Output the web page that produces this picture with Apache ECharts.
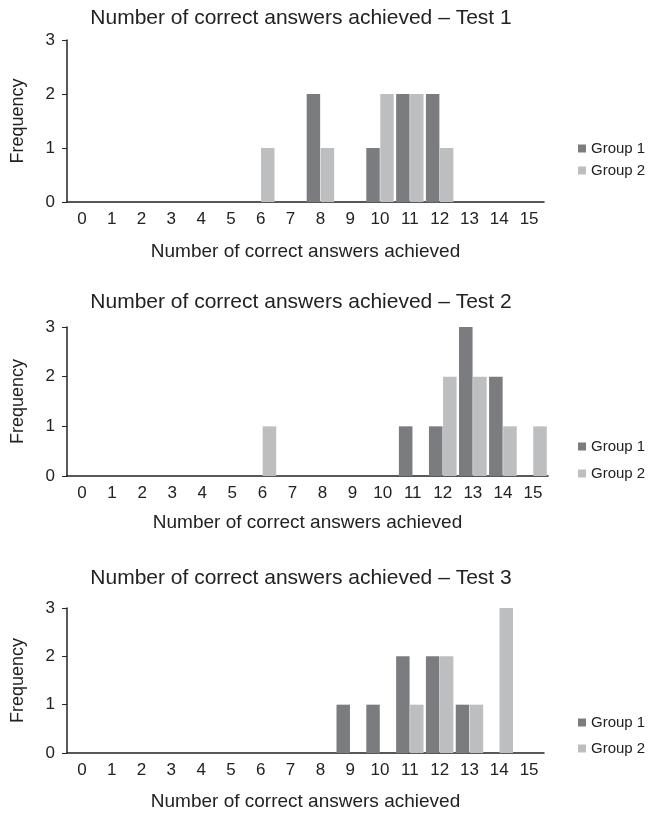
<!DOCTYPE html>
<html>
<head>
<meta charset="utf-8">
<script src="https://cdn.jsdelivr.net/npm/echarts@6/dist/echarts.min.js"></script>
<style>html,body{margin:0;padding:0;background:#fff}#c{width:660px;height:814px}</style>
</head>
<body>
<div id="c"></div>
<script>
const categories = ['0','1','2','3','4','5','6','7','8','9','10','11','12','13','14','15'];
const titles = [
  'Number of correct answers achieved \u2013 Test 1',
  'Number of correct answers achieved \u2013 Test 2',
  'Number of correct answers achieved \u2013 Test 3'
];
const seriesNames = ['Group 1', 'Group 2'];
const yTicks = [0, 1, 2, 3];
//               0 1 2 3 4 5 6 7 8 9 10 11 12 13 14 15
const test1Group1 = [0,0,0,0,0,0,0,0,2,0,1,2,2,0,0,0];
const test1Group2 = [0,0,0,0,0,0,1,0,1,0,2,2,1,0,0,0];
const test2Group1 = [0,0,0,0,0,0,0,0,0,0,0,1,1,3,2,0];
const test2Group2 = [0,0,0,0,0,0,1,0,0,0,0,0,2,2,1,1];
const test3Group1 = [0,0,0,0,0,0,0,0,0,1,1,2,2,1,0,0];
const test3Group2 = [0,0,0,0,0,0,0,0,0,0,0,1,2,1,3,0];

const FONT = 'Liberation Sans';
const DARK = '#7b7c80';
const LIGHT = '#bdbec0';
const TXT = '#222';

const grids = [
  {left: 67, right: 116, top: 40, height: 162},
  {left: 67, right: 112, top: 327, height: 149},
  {left: 67, right: 116, top: 608, height: 145}
];
const titleTops = [3, 287, 563];
const legendTops = [136, 434, 710];
const legendGaps = [7, 12, 11];
const nameGaps = [40, 37, 39];
const data = [[test1Group1, test1Group2],[test2Group1, test2Group2],[test3Group1, test3Group2]];

const option = {
  backgroundColor: '#fff',
  animation: false,
  textStyle: {fontFamily: FONT},
  title: titles.map((t, i) => ({
    text: t, left: 296, top: titleTops[i], textAlign: 'center',
    textStyle: {fontFamily: FONT, fontSize: 21, fontWeight: 'normal', color: TXT}
  })),
  legend: grids.map((g, i) => ({
    data: seriesNames, orient: 'vertical', left: 573, top: legendTops[i],
    itemWidth: 8, itemHeight: 8, itemGap: legendGaps[i], icon: 'rect',
    textStyle: {fontFamily: FONT, fontSize: 15, lineHeight: 15, color: TXT}
  })),
  grid: grids,
  xAxis: grids.map((g, i) => ({
    type: 'category', gridIndex: i, data: categories,
    name: 'Number of correct answers achieved', nameLocation: 'middle', nameGap: nameGaps[i],
    nameTextStyle: {fontFamily: FONT, fontSize: 19, color: TXT},
    axisLine: {lineStyle: {color: TXT, width: 1.5}},
    axisTick: {show: false},
    axisLabel: {fontFamily: FONT, fontSize: 17, color: TXT, margin: 9, interval: 0},
    splitLine: {show: false}
  })),
  yAxis: grids.map((g, i) => ({
    type: 'value', gridIndex: i, min: yTicks[0], max: yTicks[yTicks.length-1], interval: 1,
    name: 'Frequency', nameLocation: 'middle', nameGap: 40,
    nameTextStyle: {fontFamily: FONT, fontSize: 18, color: TXT},
    axisLine: {show: true, lineStyle: {color: TXT, width: 1.5}},
    axisTick: {show: true, length: 5, lineStyle: {color: TXT}},
    axisLabel: {fontFamily: FONT, fontSize: 17, color: TXT, margin: 12},
    splitLine: {show: false}
  })),
  series: []
};
data.forEach((pair, i) => {
  pair.forEach((vals, j) => {
    option.series.push({
      type: 'bar', name: seriesNames[j], xAxisIndex: i, yAxisIndex: i,
      data: vals, barGap: '4%', barCategoryGap: '8%',
      itemStyle: {color: j === 0 ? DARK : LIGHT}
    });
  });
});
const chart = echarts.init(document.getElementById('c'), null, {renderer: 'canvas'});
chart.setOption(option);
</script>
</body>
</html>
